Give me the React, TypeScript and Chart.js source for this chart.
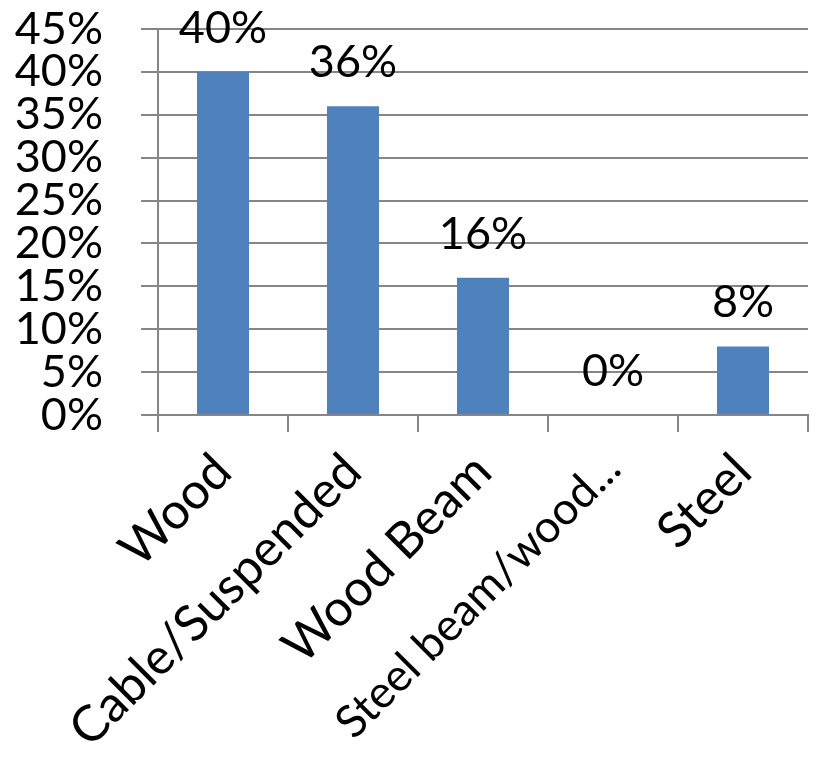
import React, { useEffect, useRef } from "react";
import { Chart, registerables } from "chart.js";

Chart.register(...registerables);

const categories = ["Wood", "Cable/Suspended", "Wood Beam", "Steel beam/wood...", "Steel"];
const values = [40, 36, 16, 0, 8];
const yTicks = [0, 5, 10, 15, 20, 25, 30, 35, 40, 45];

const FONT = "Lato, 'Liberation Sans', sans-serif";
const FONT_SIZE = 45;
const X_FONT_SIZE = 50;
const BAR_COLOR = "#4F81BD";
const GRID_COLOR = "#868686";

const dataLabels = {
  id: "dataLabels",
  afterDatasetsDraw(chart: any) {
    const ctx = chart.ctx;
    const meta = chart.getDatasetMeta(0);
    ctx.save();
    ctx.font = `${FONT_SIZE}px ${FONT}`;
    ctx.fillStyle = "#000";
    ctx.textAlign = "center";
    ctx.textBaseline = "bottom";
    meta.data.forEach((bar: any, i: number) => {
      ctx.fillText(`${values[i]}%`, bar.x, bar.y - 21);
    });
    ctx.restore();
  },
};

export default function App() {
  const ref = useRef<HTMLCanvasElement>(null);
  useEffect(() => {
    const chart = new Chart(ref.current!, {
      type: "bar",
      data: {
        labels: categories,
        datasets: [
          {
            data: values,
            backgroundColor: BAR_COLOR,
            categoryPercentage: 1,
            barPercentage: 0.4,
          },
        ],
      },
      options: {
        animation: false,
        responsive: false,
        maintainAspectRatio: false,
        layout: { padding: { top: 29, right: 5, left: 0, bottom: 0 } },
        plugins: { legend: { display: false }, tooltip: { enabled: false } },
        scales: {
          x: {
            offset: true,
            grid: {
              offset: true,
              drawOnChartArea: false,
              drawTicks: true,
              tickLength: 17,
              color: GRID_COLOR,
              lineWidth: 2,
            },
            border: { display: true, color: GRID_COLOR, width: 2 },
            ticks: {
              color: "#000",
              font: (c: any) => ({
                family: FONT,
                size: c.index === 3 ? 45 : X_FONT_SIZE,
              }),
              minRotation: 45,
              maxRotation: 45,
              padding: 10,
              autoSkip: false,
            },
            afterFit: (s: any) => {
              s.height = 344;
              s.paddingLeft = 0;
              s.paddingRight = 0;
              s.paddingTop = 0;
              s.paddingBottom = 0;
            },
          },
          y: {
            min: 0,
            max: 45,
            afterBuildTicks: (s: any) => {
              s.ticks = yTicks.map((v) => ({ value: v }));
            },
            grid: {
              color: GRID_COLOR,
              lineWidth: 2,
              tickLength: 17,
              drawTicks: true,
            },
            border: { display: true, color: GRID_COLOR, width: 2 },
            ticks: {
              color: "#000",
              font: { family: FONT, size: FONT_SIZE, lineHeight: 0.8 },
              padding: 38,
              autoSkip: false,
              callback: (v: any) => `${v}%`,
            },
            afterFit: (s: any) => {
              s.width = 158;
              s.paddingTop = 0;
              s.paddingBottom = 0;
            },
          },
        },
      },
      plugins: [dataLabels],
    });
    return () => chart.destroy();
  }, []);
  return (
    <div style={{ position: "absolute", left: 0, top: 0, width: 813, height: 759, background: "#fff" }}>
      <canvas ref={ref} width={813} height={759} style={{ width: 813, height: 759 }} />
    </div>
  );
}
